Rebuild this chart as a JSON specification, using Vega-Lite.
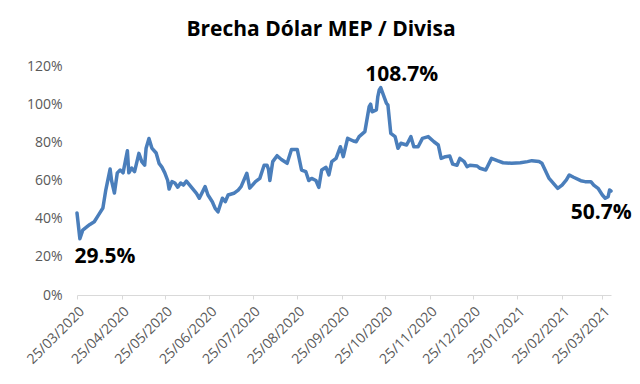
{
  "$schema": "https://vega.github.io/schema/vega-lite/v6.json",
  "width": 534,
  "height": 229,
  "autosize": {"type": "none"},
  "padding": {"left": 77, "top": 66, "right": 29, "bottom": 89},
  "background": "white",
  "title": {
    "text": "Brecha Dólar MEP / Divisa",
    "font": "Open Sans",
    "fontSize": 21,
    "fontWeight": "bold",
    "color": "#000000",
    "anchor": "middle",
    "dx": -23,
    "offset": 19
  },
  "config": {"view": {"stroke": null}},
  "data": {
    "values": [
      {"fecha": "2020-03-25", "brecha": 43},
      {"fecha": "2020-03-27", "brecha": 29.5, "texto": "29.5%"},
      {"fecha": "2020-03-29", "brecha": 34},
      {"fecha": "2020-04-01", "brecha": 35.8},
      {"fecha": "2020-04-03", "brecha": 37},
      {"fecha": "2020-04-06", "brecha": 38.4},
      {"fecha": "2020-04-09", "brecha": 42},
      {"fecha": "2020-04-12", "brecha": 45.6},
      {"fecha": "2020-04-14", "brecha": 55},
      {"fecha": "2020-04-17", "brecha": 66},
      {"fecha": "2020-04-18", "brecha": 60},
      {"fecha": "2020-04-20", "brecha": 53.4},
      {"fecha": "2020-04-22", "brecha": 64},
      {"fecha": "2020-04-24", "brecha": 65.5},
      {"fecha": "2020-04-26", "brecha": 64},
      {"fecha": "2020-04-29", "brecha": 75.6},
      {"fecha": "2020-04-30", "brecha": 64},
      {"fecha": "2020-05-02", "brecha": 66.5},
      {"fecha": "2020-05-04", "brecha": 64.6},
      {"fecha": "2020-05-07", "brecha": 74.2},
      {"fecha": "2020-05-09", "brecha": 69.9},
      {"fecha": "2020-05-11", "brecha": 68},
      {"fecha": "2020-05-12", "brecha": 76.9},
      {"fecha": "2020-05-14", "brecha": 82},
      {"fecha": "2020-05-16", "brecha": 77},
      {"fecha": "2020-05-19", "brecha": 74.4},
      {"fecha": "2020-05-21", "brecha": 69},
      {"fecha": "2020-05-23", "brecha": 67},
      {"fecha": "2020-05-25", "brecha": 64},
      {"fecha": "2020-05-27", "brecha": 60},
      {"fecha": "2020-05-28", "brecha": 55.5},
      {"fecha": "2020-05-30", "brecha": 59.4},
      {"fecha": "2020-06-01", "brecha": 58.7},
      {"fecha": "2020-06-03", "brecha": 56.5},
      {"fecha": "2020-06-05", "brecha": 58.7},
      {"fecha": "2020-06-07", "brecha": 57.6},
      {"fecha": "2020-06-09", "brecha": 59.7},
      {"fecha": "2020-06-13", "brecha": 56},
      {"fecha": "2020-06-16", "brecha": 53.3},
      {"fecha": "2020-06-18", "brecha": 50.7},
      {"fecha": "2020-06-22", "brecha": 56.8},
      {"fecha": "2020-06-24", "brecha": 52.4},
      {"fecha": "2020-06-27", "brecha": 48.9},
      {"fecha": "2020-06-29", "brecha": 45.4},
      {"fecha": "2020-07-01", "brecha": 43.6},
      {"fecha": "2020-07-04", "brecha": 50.7},
      {"fecha": "2020-07-06", "brecha": 48.9},
      {"fecha": "2020-07-08", "brecha": 52.4},
      {"fecha": "2020-07-12", "brecha": 53.3},
      {"fecha": "2020-07-15", "brecha": 55},
      {"fecha": "2020-07-17", "brecha": 56.8},
      {"fecha": "2020-07-21", "brecha": 63.8},
      {"fecha": "2020-07-23", "brecha": 56},
      {"fecha": "2020-07-27", "brecha": 59.4},
      {"fecha": "2020-07-30", "brecha": 61.1},
      {"fecha": "2020-08-02", "brecha": 68},
      {"fecha": "2020-08-04", "brecha": 68},
      {"fecha": "2020-08-05", "brecha": 66},
      {"fecha": "2020-08-06", "brecha": 60},
      {"fecha": "2020-08-08", "brecha": 69.9},
      {"fecha": "2020-08-11", "brecha": 73},
      {"fecha": "2020-08-14", "brecha": 71},
      {"fecha": "2020-08-18", "brecha": 69},
      {"fecha": "2020-08-21", "brecha": 76.3},
      {"fecha": "2020-08-25", "brecha": 76.3},
      {"fecha": "2020-08-28", "brecha": 65.5},
      {"fecha": "2020-08-31", "brecha": 64.6},
      {"fecha": "2020-09-02", "brecha": 60},
      {"fecha": "2020-09-04", "brecha": 61.1},
      {"fecha": "2020-09-07", "brecha": 60},
      {"fecha": "2020-09-09", "brecha": 56.4},
      {"fecha": "2020-09-11", "brecha": 65.5},
      {"fecha": "2020-09-14", "brecha": 66.9},
      {"fecha": "2020-09-16", "brecha": 62.9},
      {"fecha": "2020-09-18", "brecha": 69.9},
      {"fecha": "2020-09-21", "brecha": 71.6},
      {"fecha": "2020-09-24", "brecha": 77.7},
      {"fecha": "2020-09-26", "brecha": 72.5},
      {"fecha": "2020-09-29", "brecha": 82.1},
      {"fecha": "2020-10-03", "brecha": 80.7},
      {"fecha": "2020-10-05", "brecha": 80.3},
      {"fecha": "2020-10-07", "brecha": 83},
      {"fecha": "2020-10-11", "brecha": 85.6},
      {"fecha": "2020-10-14", "brecha": 98.7},
      {"fecha": "2020-10-15", "brecha": 100},
      {"fecha": "2020-10-16", "brecha": 96},
      {"fecha": "2020-10-19", "brecha": 97},
      {"fecha": "2020-10-20", "brecha": 104},
      {"fecha": "2020-10-21", "brecha": 107.5},
      {"fecha": "2020-10-22", "brecha": 108.7, "texto": "108.7%"},
      {"fecha": "2020-10-26", "brecha": 100.4},
      {"fecha": "2020-10-27", "brecha": 99.6},
      {"fecha": "2020-10-29", "brecha": 84.7},
      {"fecha": "2020-11-01", "brecha": 83},
      {"fecha": "2020-11-03", "brecha": 76.9},
      {"fecha": "2020-11-05", "brecha": 79.5},
      {"fecha": "2020-11-09", "brecha": 78.6},
      {"fecha": "2020-11-12", "brecha": 83},
      {"fecha": "2020-11-14", "brecha": 77.7},
      {"fecha": "2020-11-17", "brecha": 77.7},
      {"fecha": "2020-11-20", "brecha": 82.1},
      {"fecha": "2020-11-24", "brecha": 83},
      {"fecha": "2020-11-28", "brecha": 80.3},
      {"fecha": "2020-12-01", "brecha": 78.6},
      {"fecha": "2020-12-03", "brecha": 71.6},
      {"fecha": "2020-12-06", "brecha": 72.5},
      {"fecha": "2020-12-09", "brecha": 72.8},
      {"fecha": "2020-12-11", "brecha": 68.6},
      {"fecha": "2020-12-14", "brecha": 68},
      {"fecha": "2020-12-16", "brecha": 71.6},
      {"fecha": "2020-12-19", "brecha": 69.9},
      {"fecha": "2020-12-21", "brecha": 67.2},
      {"fecha": "2020-12-23", "brecha": 68},
      {"fecha": "2020-12-28", "brecha": 67.6},
      {"fecha": "2020-12-30", "brecha": 66.4},
      {"fecha": "2021-01-03", "brecha": 65.5},
      {"fecha": "2021-01-07", "brecha": 71.6},
      {"fecha": "2021-01-11", "brecha": 70.4},
      {"fecha": "2021-01-15", "brecha": 69.3},
      {"fecha": "2021-01-21", "brecha": 69},
      {"fecha": "2021-01-27", "brecha": 69.3},
      {"fecha": "2021-02-01", "brecha": 69.9},
      {"fecha": "2021-02-04", "brecha": 70.4},
      {"fecha": "2021-02-09", "brecha": 69.9},
      {"fecha": "2021-02-11", "brecha": 69},
      {"fecha": "2021-02-16", "brecha": 61.1},
      {"fecha": "2021-02-22", "brecha": 55.9},
      {"fecha": "2021-02-25", "brecha": 57.6},
      {"fecha": "2021-02-28", "brecha": 60.3},
      {"fecha": "2021-03-02", "brecha": 62.9},
      {"fecha": "2021-03-05", "brecha": 61.7},
      {"fecha": "2021-03-10", "brecha": 59.9},
      {"fecha": "2021-03-13", "brecha": 59.4},
      {"fecha": "2021-03-17", "brecha": 59.4},
      {"fecha": "2021-03-19", "brecha": 57.6},
      {"fecha": "2021-03-22", "brecha": 55.9},
      {"fecha": "2021-03-25", "brecha": 52.4},
      {"fecha": "2021-03-27", "brecha": 50.7, "texto": "50.7%"},
      {"fecha": "2021-03-29", "brecha": 51.5},
      {"fecha": "2021-03-30", "brecha": 55},
      {"fecha": "2021-03-31", "brecha": 54.5}
    ],
    "format": {"parse": {"fecha": "utc:'%Y-%m-%d'"}}
  },
  "encoding": {
    "x": {
      "field": "fecha",
      "type": "temporal",
      "scale": {
        "type": "utc",
        "domain": [
          {"year": 2020, "month": 3, "date": 25, "utc": true},
          {"year": 2021, "month": 3, "date": 31, "utc": true}
        ]
      },
      "axis": {
        "title": null,
        "values": [
          {"year": 2020, "month": 3, "date": 25, "utc": true},
          {"year": 2020, "month": 4, "date": 25, "utc": true},
          {"year": 2020, "month": 5, "date": 25, "utc": true},
          {"year": 2020, "month": 6, "date": 25, "utc": true},
          {"year": 2020, "month": 7, "date": 25, "utc": true},
          {"year": 2020, "month": 8, "date": 25, "utc": true},
          {"year": 2020, "month": 9, "date": 25, "utc": true},
          {"year": 2020, "month": 10, "date": 25, "utc": true},
          {"year": 2020, "month": 11, "date": 25, "utc": true},
          {"year": 2020, "month": 12, "date": 25, "utc": true},
          {"year": 2021, "month": 1, "date": 25, "utc": true},
          {"year": 2021, "month": 2, "date": 25, "utc": true},
          {"year": 2021, "month": 3, "date": 25, "utc": true}
        ],
        "format": "%d/%m/%Y",
        "labelAngle": -45,
        "labelFont": "Open Sans",
        "labelFontSize": 14,
        "labelColor": "#595959",
        "labelPadding": 5,
        "labelOverlap": false,
        "labelFlush": false,
        "grid": false,
        "domainColor": "#d9d9d9",
        "tickColor": "#d9d9d9",
        "tickSize": 4
      }
    },
    "y": {
      "field": "brecha",
      "type": "quantitative",
      "scale": {"domain": [0, 120], "nice": false, "zero": true},
      "axis": {
        "title": null,
        "values": [0, 20, 40, 60, 80, 100, 120],
        "labelExpr": "datum.value + '%'",
        "labelFont": "Open Sans",
        "labelFontSize": 14,
        "labelColor": "#595959",
        "labelPadding": 15,
        "ticks": false,
        "domain": false,
        "grid": false
      }
    }
  },
  "layer": [
    {
      "mark": {"type": "line", "color": "#4a7ebb", "strokeWidth": 3.5, "strokeJoin": "round", "strokeCap": "round"}
    },
    {
      "transform": [{"filter": "datum.texto == '29.5%'"}],
      "mark": {"type": "text", "font": "Open Sans", "fontSize": 21, "fontWeight": "bold", "fill": "#000000", "align": "center", "baseline": "middle", "dx": 25, "dy": 18},
      "encoding": {"text": {"field": "texto", "type": "nominal"}}
    },
    {
      "transform": [{"filter": "datum.texto == '108.7%'"}],
      "mark": {"type": "text", "font": "Open Sans", "fontSize": 21, "fontWeight": "bold", "fill": "#000000", "align": "center", "baseline": "middle", "dx": 21, "dy": -13},
      "encoding": {"text": {"field": "texto", "type": "nominal"}}
    },
    {
      "transform": [{"filter": "datum.texto == '50.7%'"}],
      "mark": {"type": "text", "font": "Open Sans", "fontSize": 21, "fontWeight": "bold", "fill": "#000000", "align": "center", "baseline": "middle", "dx": -4, "dy": 15},
      "encoding": {"text": {"field": "texto", "type": "nominal"}}
    }
  ]
}
